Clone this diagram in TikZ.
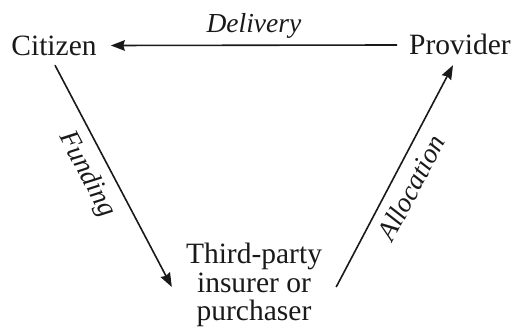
\documentclass[tikz,border=0pt]{standalone}
\usepackage{fontspec}
\setmainfont{Liberation Serif}
\usetikzlibrary{arrows.meta}
\tikzset{
  actor/.style={inner sep=0pt, text=black!90, font=\fontsize{29.5}{28.5}\selectfont},
  toprow/.style={actor, text height=20pt, text depth=0pt},
  flow/.style={line width=1.6pt, draw=black!90, -{Stealth[length=14pt, width=10.5pt, inset=1.5pt]}},
  flowlabel/.style={inner sep=0pt, text=black!90, font=\fontsize{27.5}{27}\selectfont\itshape}
}
\begin{document}
\begin{tikzpicture}[x=1pt, y=1pt]
  \useasboundingbox (0,0) rectangle (513,334);
  % the three parties
  \node[toprow, anchor=base] (cit) at (54,278.5) {Citizen};
  \node[toprow, anchor=base] (prov) at (460,279) {Provider};
  \node[actor, align=center] (tp) at (254,49) {Third-party\\insurer or\\purchaser};
  % money and service flows
  \draw[flow] ([xshift=-12pt]prov.west) -- ([xshift=14pt]cit.east)
    node[flowlabel, midway, above=6.5pt] (del) {Delivery};
  \draw[flow] ([xshift=1pt, yshift=-9.5pt]cit.south) -- ([xshift=-14pt, yshift=-2pt]tp.west)
    node[flowlabel, pos=0.444, sloped, below=9.6pt] (fund) {Funding};
  \draw[flow] ([xshift=14pt, yshift=-2pt]tp.east) -- ([xshift=-7pt, yshift=-10pt]prov.south)
    node[flowlabel, pos=0.49, sloped, below=9.6pt] (alloc) {Allocation};
\end{tikzpicture}
\end{document}
